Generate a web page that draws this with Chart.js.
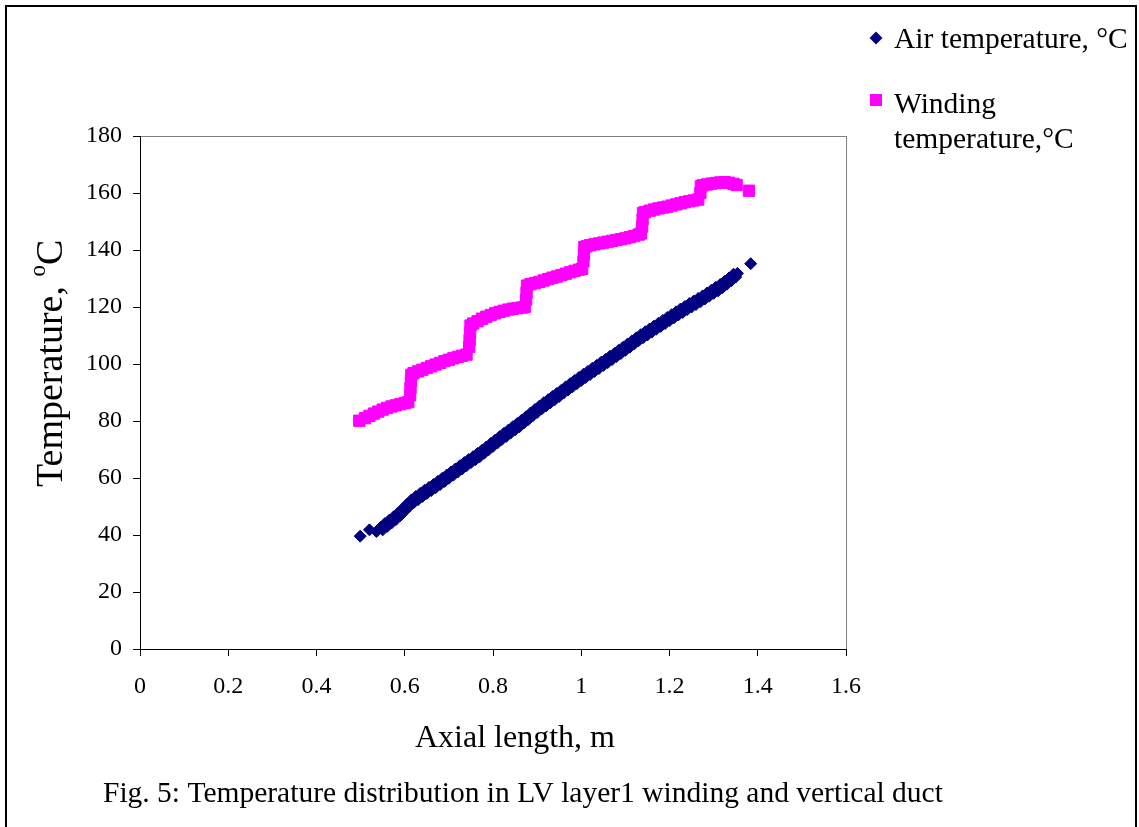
<!DOCTYPE html>
<html>
<head>
<meta charset="utf-8">
<title>Fig. 5</title>
<script src="https://cdn.jsdelivr.net/npm/chart.js@4.4.0/dist/chart.umd.min.js"></script>
<style>
  html, body { margin: 0; padding: 0; background: #ffffff; }
  #wrap { position: relative; width: 1139px; height: 827px; }
</style>
</head>
<body>
<div id="wrap"><canvas id="tempChart" width="1139" height="827"></canvas></div>
<script>
// 軸刻度
const xTicks = [0, 0.2, 0.4, 0.6, 0.8, 1, 1.2, 1.4, 1.6];
const xTickLabels = ['0', '0.2', '0.4', '0.6', '0.8', '1', '1.2', '1.4', '1.6'];
const yTicks = [0, 20, 40, 60, 80, 100, 120, 140, 160, 180];
const yTickLabels = ['0', '20', '40', '60', '80', '100', '120', '140', '160', '180'];

// Air temperature (m, °C)
const airX = [0.499, 0.52, 0.536,
  0.545, 0.55, 0.555, 0.56, 0.565, 0.57, 0.575, 0.58, 0.585, 0.59, 0.595,
  0.60, 0.605, 0.61, 0.615, 0.62, 0.625, 0.63, 0.635, 0.64, 0.645,
  0.65, 0.655, 0.66, 0.665, 0.67, 0.675, 0.68, 0.685, 0.69, 0.695,
  0.70, 0.705, 0.71, 0.715, 0.72, 0.725, 0.73, 0.735, 0.74, 0.745,
  0.75, 0.755, 0.76, 0.765, 0.77, 0.775, 0.78, 0.785, 0.79, 0.795,
  0.80, 0.805, 0.81, 0.815, 0.82, 0.825, 0.83, 0.835, 0.84, 0.845,
  0.85, 0.855, 0.86, 0.865, 0.87, 0.875, 0.88, 0.885, 0.89, 0.895,
  0.90, 0.905, 0.91, 0.915, 0.92, 0.925, 0.93, 0.935, 0.94, 0.945,
  0.95, 0.955, 0.96, 0.965, 0.97, 0.975, 0.98, 0.985, 0.99, 0.995,
  1.00, 1.005, 1.01, 1.015, 1.02, 1.025, 1.03, 1.035, 1.04, 1.045,
  1.05, 1.055, 1.06, 1.065, 1.07, 1.075, 1.08, 1.085, 1.09, 1.095,
  1.10, 1.105, 1.11, 1.115, 1.12, 1.125, 1.13, 1.135, 1.14, 1.145,
  1.15, 1.155, 1.16, 1.165, 1.17, 1.175, 1.18, 1.185, 1.19, 1.195,
  1.20, 1.205, 1.21, 1.215, 1.22, 1.225, 1.23, 1.235, 1.24, 1.245,
  1.25, 1.255, 1.26, 1.265, 1.27, 1.275, 1.28, 1.285, 1.29, 1.295,
  1.30, 1.305, 1.31, 1.315, 1.32, 1.325, 1.33, 1.335, 1.34, 1.345,
  1.35, 1.354, 1.384];
const airT = [39.6, 41.8, 41.2,
  42.6, 41.8, 44.0, 43.0, 45.2, 44.2, 46.4, 45.4, 47.7, 46.8, 49.2,
  48.4, 50.8, 50.0, 52.3, 51.3, 53.5, 52.4, 54.6, 53.5, 55.7,
  54.6, 56.7, 55.6, 57.7, 56.6, 58.8, 57.7, 59.9, 58.8, 61.0,
  59.9, 62.1, 61.0, 63.2, 62.1, 64.3, 63.2, 65.4, 64.3, 66.5,
  65.4, 67.5, 66.4, 68.6, 67.5, 69.7, 68.7, 70.9, 69.9, 72.1,
  71.1, 73.3, 72.3, 74.5, 73.5, 75.7, 74.6, 76.8, 75.8, 78.0,
  76.9, 79.1, 78.0, 80.3, 79.3, 81.5, 80.5, 82.8, 81.8, 84.0,
  83.0, 85.2, 84.2, 86.4, 85.3, 87.5, 86.4, 88.6, 87.5, 89.7,
  88.6, 90.8, 89.8, 92.0, 90.9, 93.1, 92.0, 94.2, 93.1, 95.3,
  94.2, 96.4, 95.3, 97.4, 96.3, 98.5, 97.4, 99.5, 98.4, 100.6,
  99.5, 101.6, 100.5, 102.7, 101.6, 103.7, 102.6, 104.8, 103.7, 105.9,
  104.8, 107.0, 105.9, 108.1, 107.0, 109.2, 108.2, 110.3, 109.2, 111.3,
  110.2, 112.3, 111.2, 113.3, 112.2, 114.3, 113.2, 115.3, 114.2, 116.3,
  115.2, 117.3, 116.2, 118.3, 117.2, 119.3, 118.1, 120.2, 119.1, 121.2,
  120.0, 122.1, 120.9, 123.0, 121.8, 123.9, 122.8, 124.9, 123.8, 125.9,
  124.8, 126.9, 125.7, 127.9, 126.8, 129.0, 128.0, 130.2, 129.2, 131.5,
  130.5, 131.8, 135.2];

// Winding temperature (m, °C)
const windX = [0.497, 0.51, 0.52, 0.53, 0.54, 0.55, 0.56, 0.57, 0.58, 0.59, 0.60, 0.608,
  0.612, 0.613, 0.614, 0.615,
  0.62, 0.63, 0.64, 0.65, 0.66, 0.67, 0.68, 0.69, 0.70, 0.71, 0.72, 0.73, 0.74,
  0.746, 0.747, 0.748, 0.749,
  0.755, 0.765, 0.775, 0.785, 0.795, 0.805, 0.815, 0.825, 0.835, 0.845, 0.855, 0.865, 0.872,
  0.875, 0.876, 0.877,
  0.885, 0.895, 0.905, 0.915, 0.925, 0.935, 0.945, 0.955, 0.965, 0.975, 0.985, 0.995, 1.002,
  1.005, 1.006, 1.007,
  1.012, 1.02, 1.03, 1.04, 1.05, 1.06, 1.07, 1.08, 1.09, 1.10, 1.11, 1.12, 1.13, 1.135,
  1.138, 1.139, 1.14,
  1.145, 1.155, 1.165, 1.175, 1.185, 1.195, 1.205, 1.215, 1.225, 1.235, 1.245, 1.255, 1.265,
  1.27, 1.271,
  1.275, 1.285, 1.295, 1.305, 1.315, 1.325, 1.335, 1.345, 1.352, 1.38];
const windT = [80.1, 81.0, 81.8, 82.6, 83.3, 84.0, 84.6, 85.1, 85.5, 85.9, 86.3, 86.6,
  89.0, 91.5, 94.0, 96.2,
  96.8, 97.4, 98.0, 98.6, 99.2, 99.8, 100.4, 101.0, 101.5, 102.0, 102.5, 102.9, 103.3,
  106.0, 108.5, 111.0, 113.5,
  114.2, 115.0, 115.9, 116.6, 117.2, 117.8, 118.3, 118.7, 119.1, 119.4, 119.6, 119.8, 120.0,
  122.5, 125.0, 127.5,
  128.0, 128.4, 128.8, 129.3, 129.8, 130.3, 130.7, 131.2, 131.7, 132.2, 132.7, 133.1, 133.4,
  136.0, 138.5, 141.0,
  141.3, 141.7, 142.0, 142.3, 142.6, 142.9, 143.2, 143.5, 143.8, 144.1, 144.5, 144.9, 145.4, 145.8,
  148.2, 150.7, 153.0,
  153.3, 153.8, 154.2, 154.6, 154.9, 155.2, 155.6, 156.0, 156.4, 156.8, 157.1, 157.4, 157.7,
  160.0, 162.3,
  162.7, 163.0, 163.3, 163.5, 163.7, 163.8, 163.6, 163.2, 162.8, 160.8];

// 色彩
const airColor = '#000080';
const windColor = '#ff00ff';
const serif = '"Liberation Serif", "Times New Roman", serif';

function toPoints(xs, ys) {
  return xs.map((x, i) => ({ x: x, y: ys[i] }));
}

// 外框、圖區框
const framePlugin = {
  id: 'frame',
  beforeDraw(chart) {
    const ctx = chart.ctx;
    const a = chart.chartArea;
    ctx.save();
    ctx.strokeStyle = '#000000';
    ctx.lineWidth = 2;
    ctx.strokeRect(6, 6, 1130, 822);
    ctx.strokeStyle = '#808080';
    ctx.lineWidth = 1;
    ctx.strokeRect(Math.round(a.left) + 0.5, Math.round(a.top) + 0.5,
      Math.round(a.right - a.left), Math.round(a.bottom - a.top));
    ctx.restore();
  }
};

// 標題、圖例、說明文字
const textPlugin = {
  id: 'texts',
  afterDraw(chart) {
    const ctx = chart.ctx;
    ctx.save();
    ctx.fillStyle = '#000000';
    ctx.textAlign = 'left';
    ctx.textBaseline = 'alphabetic';

    // x 軸標題
    ctx.font = '32px ' + serif;
    ctx.fillText('Axial length, m', 415, 747);

    // y 軸標題 (旋轉)
    ctx.save();
    ctx.translate(62, 487);
    ctx.rotate(-Math.PI / 2);
    ctx.font = '38px ' + serif;
    const part1 = 'Temperature, ';
    ctx.fillText(part1, 0, 0);
    let w = ctx.measureText(part1).width;
    ctx.font = '23px ' + serif;
    ctx.fillText('o', w, -17);
    w += ctx.measureText('o').width;
    ctx.font = '38px ' + serif;
    ctx.fillText('C', w, 0);
    ctx.restore();

    // 圖例
    ctx.fillStyle = airColor;
    ctx.beginPath();
    ctx.moveTo(876 - 6.5, 38); ctx.lineTo(876, 38 - 6.5); ctx.lineTo(876 + 6.5, 38); ctx.lineTo(876, 38 + 6.5);
    ctx.closePath();
    ctx.fill();
    ctx.fillStyle = windColor;
    ctx.fillRect(870, 94, 12, 12);

    ctx.fillStyle = '#000000';
    ctx.font = '29.5px ' + serif;
    ctx.fillText('Air temperature, \u00B0C', 894, 48);
    ctx.fillText('Winding', 894, 113);
    ctx.fillText('temperature,\u00B0C', 894, 148);

    // 說明
    ctx.font = '29.5px ' + serif;
    ctx.fillText('Fig. 5: Temperature distribution in LV layer1 winding and vertical duct', 103, 802);
    ctx.restore();
  }
};

let chartEl = document.querySelector('#tempChart');
new Chart(chartEl, {
  type: 'scatter',
  data: {
    datasets: [
      {
        label: 'Air temperature, \u00B0C',
        data: toPoints(airX, airT),
        pointStyle: 'rectRot',
        pointRadius: 6,
        backgroundColor: airColor,
        borderColor: airColor,
        borderWidth: 1
      },
      {
        label: 'Winding temperature,\u00B0C',
        data: toPoints(windX, windT),
        pointStyle: 'rect',
        pointRadius: 8,
        backgroundColor: windColor,
        borderColor: windColor,
        borderWidth: 1
      }
    ]
  },
  options: {
    responsive: false,
    animation: false,
    layout: { padding: { left: 30, top: 136, right: 293, bottom: 68 } },
    plugins: {
      legend: { display: false },
      tooltip: { enabled: false }
    },
    scales: {
      x: {
        type: 'linear',
        min: 0,
        max: 1.6,
        afterBuildTicks: (s) => { s.ticks = xTicks.map(v => ({ value: v })); },
        afterFit: (s) => { s.height = 110; },
        ticks: {
          autoSkip: false,
          maxRotation: 0,
          padding: 16,
          color: '#000000',
          font: { family: serif, size: 24 },
          callback: (v, i) => xTickLabels[i]
        },
        grid: { drawOnChartArea: false, drawTicks: true, tickLength: 7, color: '#000000' },
        border: { display: true, color: '#000000', width: 1 }
      },
      y: {
        type: 'linear',
        min: 0,
        max: 180,
        afterBuildTicks: (s) => { s.ticks = yTicks.map(v => ({ value: v })); },
        afterFit: (s) => { s.width = 110; },
        ticks: {
          autoSkip: false,
          padding: 11,
          color: '#000000',
          font: { family: serif, size: 24 },
          callback: (v, i) => yTickLabels[i]
        },
        grid: { drawOnChartArea: false, drawTicks: true, tickLength: 7, color: '#000000' },
        border: { display: true, color: '#000000', width: 1 }
      }
    }
  },
  plugins: [framePlugin, textPlugin]
});
</script>
</body>
</html>
